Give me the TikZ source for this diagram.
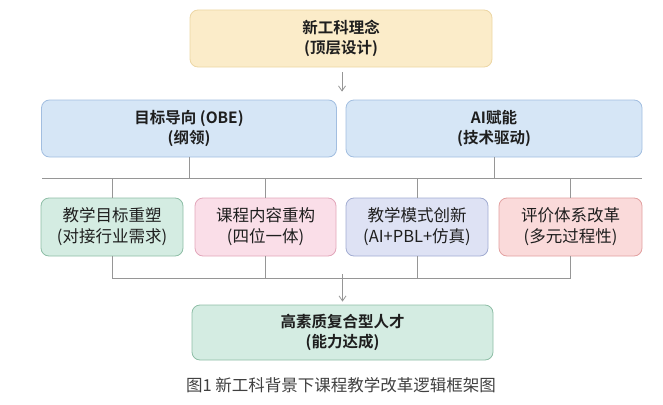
\documentclass[tikz,border=0pt]{standalone}
\usepackage{fontspec}
\setmainfont{Noto Sans CJK SC}[BoldFont={Noto Sans CJK SC Bold}]
\usepackage{tikz}
\usetikzlibrary{arrows.meta}

\definecolor{linegray}{RGB}{150,150,150}
\definecolor{textdark}{RGB}{30,30,30}
\definecolor{topfill}{RGB}{251,236,201}
\definecolor{topdraw}{RGB}{236,214,164}
\definecolor{bluefill}{RGB}{214,230,246}
\definecolor{bluedraw}{RGB}{162,190,224}
\definecolor{greenfill}{RGB}{212,236,226}
\definecolor{greendraw}{RGB}{142,190,166}
\definecolor{pinkfill}{RGB}{250,222,232}
\definecolor{pinkdraw}{RGB}{226,166,186}
\definecolor{lavfill}{RGB}{222,226,244}
\definecolor{lavdraw}{RGB}{162,172,210}
\definecolor{redfill}{RGB}{250,218,218}
\definecolor{reddraw}{RGB}{226,160,160}

\tikzset{
  box/.style={rectangle, rounded corners=8pt, line width=0.8pt, align=center,
    text=textdark, inner sep=0pt, font=\fontsize{16.5}{21}\selectfont},
  boldbox/.style={box, font=\fontsize{15.5}{19.5}\selectfont\bfseries},
  link/.style={draw=linegray, line width=0.8pt},
  arr/.style={link, -{Straight Barb[length=5pt,width=7pt]}}
}

\begin{document}
\begin{tikzpicture}[x=1pt,y=-1pt]
  \useasboundingbox (0,0) rectangle (663,404);
  % top and middle
  \node[boldbox, fill=topfill, draw=topdraw, minimum width=302pt, minimum height=57pt] (idea) at (341,38.5) {新工科理念\\(顶层设计)};
  \node[boldbox, fill=bluefill, draw=bluedraw, minimum width=295pt, minimum height=57pt] (obe) at (189,128.5) {目标导向 (OBE)\\(纲领)};
  \node[boldbox, fill=bluefill, draw=bluedraw, minimum width=296pt, minimum height=57pt] (ai) at (494,128.5) {AI赋能\\(技术驱动)};
  % four reforms
  \node[box, fill=greenfill, draw=greendraw, minimum width=142pt, minimum height=58pt] (goal) at (112,227) {教学目标重塑\\(对接行业需求)};
  \node[box, fill=pinkfill, draw=pinkdraw, minimum width=141pt, minimum height=58pt] (content) at (265.5,227) {课程内容重构\\(四位一体)};
  \node[box, fill=lavfill, draw=lavdraw, minimum width=142pt, minimum height=58pt] (mode) at (417,227) {教学模式创新\\(AI+PBL+仿真)};
  \node[box, fill=redfill, draw=reddraw, minimum width=143pt, minimum height=58pt] (eval) at (570.5,227) {评价体系改革\\(多元过程性)};
  % result
  \node[boldbox, fill=greenfill, draw=greendraw, minimum width=301pt, minimum height=55pt] (talent) at (342.5,332.5) {高素质复合型人才\\(能力达成)};
  \node[text=textdark!85, font=\fontsize{16.5}{18}\selectfont] (caption) at (341,385) {图1 新工科背景下课程教学改革逻辑框架图};

  % connectors
  \draw[arr] ([yshift=-5pt]idea.south -| 342,0) -- ([yshift=8pt]obe.north -| 342,0);
  \coordinate (busl) at (42,178);
  \coordinate (busr) at (642,178);
  \draw[link] (busl) -- (busr);
  \draw[link] (obe.south) -- (obe.south |- busl);
  \draw[link] (ai.south) -- (ai.south |- busl);
  \foreach \n in {goal,content,mode,eval}
    \draw[link] (\n.north |- busl) -- (\n.north);
  \coordinate (joinl) at (goal.south |- 0,278);
  \coordinate (joinr) at (eval.south |- 0,278);
  \draw[link] (goal.south) -- (joinl) -- (joinr) -- (eval.south);
  \draw[link] (content.south) -- (content.south |- joinl);
  \draw[link] (mode.south) -- (mode.south |- joinl);
  \draw[arr] ([yshift=4pt]talent.north |- joinl) -- ([yshift=3pt]talent.north);
\end{tikzpicture}
\end{document}
